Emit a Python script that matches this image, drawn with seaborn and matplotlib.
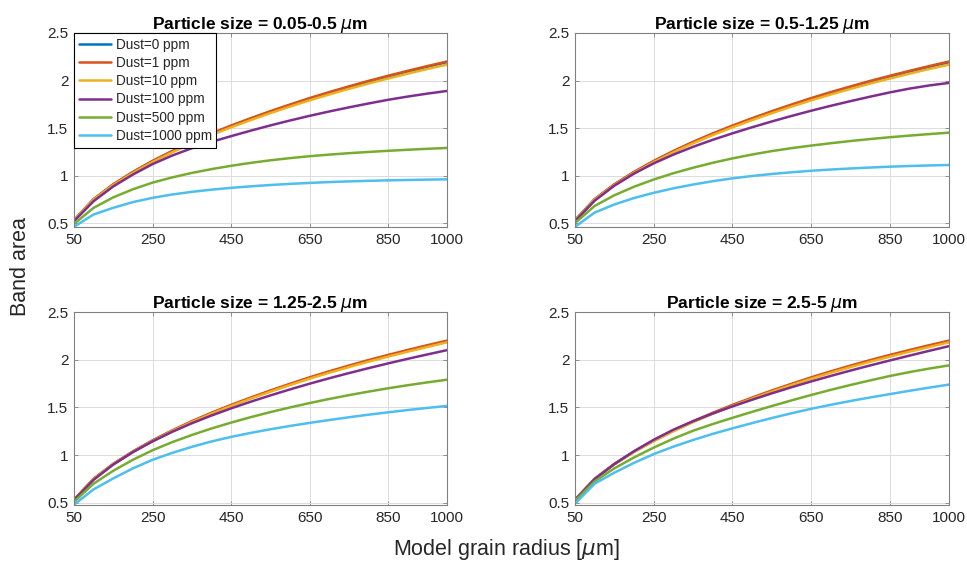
import numpy as np
import pandas as pd
import matplotlib
matplotlib.use("Agg")
import matplotlib.pyplot as plt
import seaborn as sns

radius = [50, 100, 150, 200, 250, 300, 350, 400, 450, 500,
          550, 600, 650, 700, 750, 800, 850, 900, 950, 1000]
dust_labels = ["Dust=0 ppm", "Dust=1 ppm", "Dust=10 ppm", "Dust=100 ppm",
               "Dust=500 ppm", "Dust=1000 ppm"]
panel_titles = ["Particle size = 0.05-0.5 $\\mu$m", "Particle size = 0.5-1.25 $\\mu$m",
                "Particle size = 1.25-2.5 $\\mu$m", "Particle size = 2.5-5 $\\mu$m"]

# clean-snow curves, nearly identical in every panel
d0 = [0.530, 0.750, 0.905, 1.035, 1.150, 1.254, 1.350, 1.438, 1.520, 1.597,
      1.671, 1.741, 1.808, 1.871, 1.931, 1.988, 2.042, 2.094, 2.144, 2.192]
d1 = [0.530, 0.752, 0.908, 1.038, 1.154, 1.258, 1.355, 1.443, 1.526, 1.603,
      1.677, 1.747, 1.815, 1.878, 1.938, 1.996, 2.050, 2.102, 2.152, 2.200]

# panel 1: 0.05-0.5 um
p1_d10 = [0.528, 0.746, 0.899, 1.027, 1.141, 1.244, 1.339, 1.426, 1.507, 1.583,
          1.656, 1.725, 1.791, 1.853, 1.912, 1.968, 2.021, 2.072, 2.121, 2.167]
p1_d100 = [0.520, 0.730, 0.885, 1.010, 1.120, 1.210, 1.287, 1.354, 1.414, 1.472,
           1.527, 1.579, 1.628, 1.674, 1.717, 1.758, 1.797, 1.831, 1.862, 1.890]
p1_d500 = [0.490, 0.660, 0.770, 0.855, 0.925, 0.980, 1.027, 1.067, 1.102, 1.133,
           1.160, 1.183, 1.203, 1.220, 1.235, 1.248, 1.260, 1.271, 1.281, 1.290]
p1_d1000 = [0.460, 0.590, 0.660, 0.720, 0.765, 0.800, 0.828, 0.851, 0.870, 0.886,
            0.900, 0.912, 0.922, 0.931, 0.938, 0.944, 0.949, 0.953, 0.957, 0.960]

# panel 2: 0.5-1.25 um
p2_d10 = [0.528, 0.746, 0.899, 1.027, 1.141, 1.244, 1.339, 1.426, 1.507, 1.583,
          1.656, 1.725, 1.791, 1.853, 1.912, 1.968, 2.021, 2.072, 2.121, 2.167]
p2_d100 = [0.520, 0.735, 0.893, 1.020, 1.128, 1.220, 1.302, 1.376, 1.444, 1.508,
           1.569, 1.627, 1.682, 1.734, 1.783, 1.830, 1.875, 1.915, 1.948, 1.975]
p2_d500 = [0.500, 0.680, 0.792, 0.882, 0.958, 1.024, 1.082, 1.134, 1.180, 1.221,
           1.257, 1.288, 1.315, 1.340, 1.363, 1.384, 1.403, 1.420, 1.436, 1.451]
p2_d1000 = [0.460, 0.610, 0.695, 0.763, 0.818, 0.865, 0.905, 0.940, 0.970, 0.995,
            1.016, 1.034, 1.050, 1.063, 1.074, 1.084, 1.093, 1.100, 1.106, 1.111]

# panel 3: 1.25-2.5 um
p3_d10 = [0.530, 0.749, 0.903, 1.032, 1.146, 1.250, 1.345, 1.433, 1.514, 1.591,
          1.664, 1.734, 1.800, 1.863, 1.922, 1.979, 2.032, 2.084, 2.133, 2.182]
p3_d100 = [0.530, 0.740, 0.900, 1.030, 1.143, 1.243, 1.333, 1.414, 1.489, 1.559,
           1.625, 1.688, 1.748, 1.805, 1.859, 1.911, 1.961, 2.009, 2.055, 2.100]
p3_d500 = [0.510, 0.700, 0.835, 0.950, 1.050, 1.135, 1.210, 1.278, 1.340, 1.397,
           1.450, 1.499, 1.545, 1.588, 1.628, 1.665, 1.700, 1.732, 1.762, 1.790]
p3_d1000 = [0.480, 0.640, 0.755, 0.860, 0.950, 1.022, 1.086, 1.142, 1.190, 1.232,
            1.270, 1.305, 1.337, 1.367, 1.396, 1.423, 1.448, 1.472, 1.494, 1.515]

# panel 4: 2.5-5 um
p4_d10 = [0.530, 0.749, 0.903, 1.032, 1.146, 1.250, 1.345, 1.433, 1.514, 1.591,
          1.664, 1.734, 1.800, 1.863, 1.922, 1.979, 2.032, 2.084, 2.133, 2.182]
p4_d100 = [0.530, 0.748, 0.905, 1.040, 1.160, 1.266, 1.355, 1.436, 1.510, 1.580,
           1.647, 1.711, 1.772, 1.830, 1.886, 1.940, 1.992, 2.043, 2.093, 2.142]
p4_d500 = [0.520, 0.725, 0.860, 0.975, 1.078, 1.172, 1.255, 1.325, 1.390, 1.453,
           1.514, 1.573, 1.630, 1.684, 1.735, 1.783, 1.829, 1.870, 1.907, 1.940]
p4_d1000 = [0.490, 0.700, 0.815, 0.918, 1.010, 1.088, 1.158, 1.222, 1.280, 1.335,
            1.388, 1.438, 1.485, 1.527, 1.567, 1.604, 1.639, 1.674, 1.707, 1.739]

panels = [
    [d0, d1, p1_d10, p1_d100, p1_d500, p1_d1000],
    [d0, d1, p2_d10, p2_d100, p2_d500, p2_d1000],
    [d0, d1, p3_d10, p3_d100, p3_d500, p3_d1000],
    [d0, d1, p4_d10, p4_d100, p4_d500, p4_d1000],
]

colors = ["#0072BD", "#D95319", "#EDB120", "#7E2F8E", "#77AC30", "#4DBEEE"]
xticks = [50, 250, 450, 650, 850, 1000]
yticks = [0.5, 1, 1.5, 2, 2.5]
ylows = [0.458, 0.458, 0.476, 0.476]

sns.set_theme(style="white")
plt.rcParams["font.family"] = ["Liberation Sans", "DejaVu Sans"]
plt.rcParams["mathtext.fontset"] = "dejavusans"

fig = plt.figure(figsize=(9.67, 5.63), dpi=100)
W, H = 967, 563
boxes = [(74, 33, 447, 227), (575, 33, 949, 227), (74, 312, 447, 505), (575, 312, 949, 505)]

for i, (series, title, box) in enumerate(zip(panels, panel_titles, boxes)):
    l, t, r, b = box
    ax = fig.add_axes([l / W, 1 - b / H, (r - l) / W, (b - t) / H])
    rows = []
    for lab, vals in zip(dust_labels, series):
        for x, v in zip(radius, vals):
            rows.append({"radius": x, "area": v, "dust": lab})
    df = pd.DataFrame(rows)
    sns.lineplot(data=df, x="radius", y="area", hue="dust", hue_order=dust_labels,
                 palette=colors, linewidth=1.8, ax=ax, legend=(i == 0))
    ax.set_xlim(50, 1000)
    ax.set_ylim(ylows[i], 2.5)
    ax.set_xticks(xticks)
    ax.set_xticklabels([str(v) for v in xticks])
    ax.set_yticks(yticks)
    ax.set_yticklabels(["0.5", "1", "1.5", "2", "2.5"])
    ax.set_xlabel("")
    ax.set_ylabel("")
    ax.grid(True, color="#dcdcdc", linewidth=0.7)
    ax.tick_params(axis="both", direction="in", length=3, width=0.6, colors="#808080",
                   labelcolor="#262626", labelsize=11, top=True, right=True,
                   bottom=True, left=True, pad=4)
    for s in ax.spines.values():
        s.set_color("#808080")
        s.set_linewidth(0.8)
    ax.set_title(title, fontsize=12.5, fontweight="bold", color="black", pad=3)
    if i == 0:
        leg = ax.legend(loc="upper left", fontsize=9.8, frameon=True, fancybox=False,
                        edgecolor="black", borderaxespad=0.0, handlelength=2.4,
                        handletextpad=0.3, labelspacing=0.31, borderpad=0.35,
                        title=None)
        leg.get_frame().set_linewidth(0.8)
        leg.get_frame().set_alpha(1)

fig.text(506 / W, 1 - 550 / H, "Model grain radius [$\\mu$m]", ha="center", va="center",
         fontsize=15.5, color="#262626")
fig.text(21 / W, 1 - 267 / H, "Band area", ha="center", va="center", rotation=90,
         fontsize=15.5, color="#262626")

fig.savefig("out.png", dpi=100, facecolor="white")
